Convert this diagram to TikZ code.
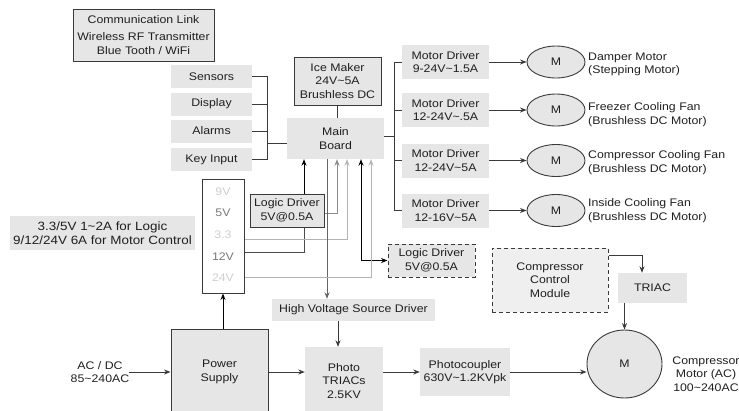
\documentclass[tikz,border=0pt]{standalone}
\usepackage{fontspec}
\setmainfont[FakeStretch=1.12]{Liberation Sans}
\usepackage{tikz}
\usetikzlibrary{arrows.meta,shapes.geometric}
\definecolor{boxgray}{HTML}{E6E6E6}
\definecolor{palebox}{HTML}{EFEFEF}
\definecolor{linegray}{HTML}{3A3A3A}
\definecolor{midgray}{HTML}{8C8C8C}
\definecolor{palegray}{HTML}{B4B4B4}
\definecolor{voltpale}{HTML}{CFCFCF}
\definecolor{voltmid}{HTML}{7A7A7A}
\newcommand{\tld}{\textasciitilde}

\begin{document}
\begin{tikzpicture}[x=1pt, y=-1pt,
  every node/.style={font=\fontsize{11}{13.5}\selectfont, text=black!88, inner sep=0pt, align=center},
  gbox/.style={fill=boxgray},
  framed/.style={fill=boxgray, draw=linegray, line width=1pt},
  dashbox/.style={fill=#1, draw=linegray, line width=1pt, dash pattern=on 4pt off 3pt},
  side/.style={gbox, minimum width=81pt, minimum height=23pt},
  driver/.style={gbox, minimum width=87pt, minimum height=34pt},
  motor/.style={ellipse, draw=linegray, fill=boxgray, line width=0.9pt, minimum width=58pt, minimum height=32pt},
  mlabel/.style={anchor=west, align=left},
  wire/.style={linegray, line width=0.9pt},
  tip/.tip={Stealth[length=6.5pt, width=5pt]},
  arr/.style={wire, -tip}]
  \useasboundingbox (0,0) rectangle (739,410);

  \node[framed, minimum width=141pt, minimum height=52pt] (comm) at (143.5,35) {Communication Link\\[4pt]Wireless RF Transmitter\\Blue Tooth / WiFi};

  \node[side] (sens) at (211.5,76.5) {Sensors};
  \node[side] (disp) at (211.5,104) {Display};
  \node[side] (alarm) at (211.5,131) {Alarms};
  \node[side] (keyin) at (211.5,159.5) {Key Input};
  \coordinate (sbus) at (267,143);

  \node[framed, minimum width=87pt, minimum height=48pt] (icemk) at (337.5,81) {Ice Maker\\24V\tld5A\\Brushless DC};
  \node[gbox, minimum width=97pt, minimum height=41pt] (main) at (335.5,138.5) {Main\\Board};
  \coordinate (mbus) at (394,136);

  \node[driver] (d1) at (445.5,62) {Motor Driver\\9-24V\tld1.5A};
  \node[driver] (d2) at (445.5,110) {Motor Driver\\12-24V\tld.5A};
  \node[driver] (d3) at (445.5,160.5) {Motor Driver\\12-24V\tld5A};
  \node[driver] (d4) at (445.5,210.5) {Motor Driver\\12-16V\tld5A};

  \node[motor] (m1) at (556,62) {M};
  \node[motor] (m2) at (556,110) {M};
  \node[motor] (m3) at (556,160.5) {M};
  \node[motor] (m4) at (556,210.5) {M};
  \node[mlabel] (m1lab) at (588,64.5) {Damper Motor\\(Stepping Motor)};
  \node[mlabel] (m2lab) at (588,114.5) {Freezer Cooling Fan\\(Brushless DC Motor)};
  \node[mlabel] (m3lab) at (588,162.5) {Compressor Cooling Fan\\(Brushless DC Motor)};
  \node[mlabel] (m4lab) at (588,210.5) {Inside Cooling Fan\\(Brushless DC Motor)};

  \node[gbox, minimum width=185pt, minimum height=34pt, font=\fontsize{12}{14}\selectfont] (info) at (102.5,233) {3.3/5V 1\tld2A for Logic\\9/12/24V 6A for Motor Control};
  \node[draw=linegray, fill=white, line width=1pt, minimum width=42pt, minimum height=114pt] (vbox) at (223,236) {};
  \node[text=voltpale] (v9) at (223,192) {9V};
  \node[text=voltmid] (v5) at (223,213) {5V};
  \node[text=voltpale] (v33) at (223,235) {3.3};
  \node[text=voltmid] (v12) at (223,257) {12V};
  \node[text=voltpale] (v24) at (223,278) {24V};

  \node[framed, minimum width=74pt, minimum height=33pt] (ldrv) at (287,210.5) {Logic Driver\\5V@0.5A};
  \node[dashbox=boxgray, minimum width=87pt, minimum height=33pt] (ldrv2) at (431.5,260.5) {Logic Driver\\5V@0.5A};
  \node[gbox, minimum width=163pt, minimum height=22pt] (hv) at (353.5,310) {High Voltage Source Driver};

  \node (acdc) at (100,372) {AC / DC\\85\tld240AC};
  \node[framed, minimum width=97pt, minimum height=86pt] (power) at (219.5,372) {Power\\Supply};
  \node[gbox, minimum width=78pt, minimum height=68pt] (photo) at (344,381) {Photo\\TRIACs\\2.5KV};
  \node[gbox, minimum width=90pt, minimum height=48pt] (pc) at (465,372) {Photocoupler\\630V\tld1.2KVpk};
  \node[motor, minimum width=75pt, minimum height=68pt] (cmotor) at (624.5,364) {M};
  \node (cmlab) at (706,374) {Compressor\\Motor (AC)\\100\tld240AC};
  \node[dashbox=palebox, minimum width=116pt, minimum height=64pt] (ccm) at (550,280) {Compressor\\Control\\Module};
  \node[gbox, minimum width=69pt, minimum height=30pt] (triac) at (652.5,288) {TRIAC};

  \foreach \n in {sens,disp,alarm,keyin}
    \draw[wire] (\n.east) -| (sbus);
  \draw[wire] (sbus) -- (main.west |- sbus);
  \draw[wire] (icemk.south) -- (icemk.south |- main.north);
  \draw[wire] (main.east |- mbus) -- (mbus);
  \foreach \n in {d1,d2,d3,d4}
    \draw[wire] (mbus) |- (\n.west);
  \draw[arr] (d1.east) -- (m1.west);
  \draw[arr] (d2.east) -- (m2.west);
  \draw[arr] (d3.east) -- (m3.west);
  \draw[arr] (d4.east) -- (m4.west);

  \draw[arr, black] ([xshift=17pt]ldrv.north) -- ([xshift=17pt]ldrv.north |- main.south);
  \draw[wire, black!70] ([yshift=-16pt]vbox.east) -| ([xshift=17pt]ldrv.south);
  \draw[arr, midgray] ([yshift=-2.5pt]ldrv.east) -| ([xshift=1.5pt]main.south);
  \draw[arr, palegray] ([yshift=-3pt]vbox.east) -| ([xshift=11.5pt]main.south);
  \draw[arr, black!60] ([xshift=-8.5pt]main.south) -- ([xshift=-8.5pt]main.south |- hv.north);
  \draw[wire, black, tip-tip] ([xshift=25.5pt]main.south) |- (ldrv2.west);
  \draw[arr, palegray] ([yshift=-41pt]vbox.east) -| ([xshift=35.5pt]main.south);

  \draw[arr, black] (vbox.south |- power.north) -- (vbox.south);
  \draw[arr] (acdc.east) -- (power.west);
  \draw[arr] (power.east) -- (photo.west |- power.east);
  \draw[arr] ([xshift=-6pt]photo.north |- hv.south) -- ([xshift=-6pt]photo.north);
  \draw[arr] (photo.east |- pc.west) -- (pc.west);
  \draw[arr] (pc.east) -- (pc.east -| cmotor.west);
  \draw[arr] ([yshift=25pt]ccm.east) -| ([xshift=-10.5pt]triac.north);
  \draw[arr] (triac.south -| cmotor.north) -- (cmotor.north);
\end{tikzpicture}
\end{document}
